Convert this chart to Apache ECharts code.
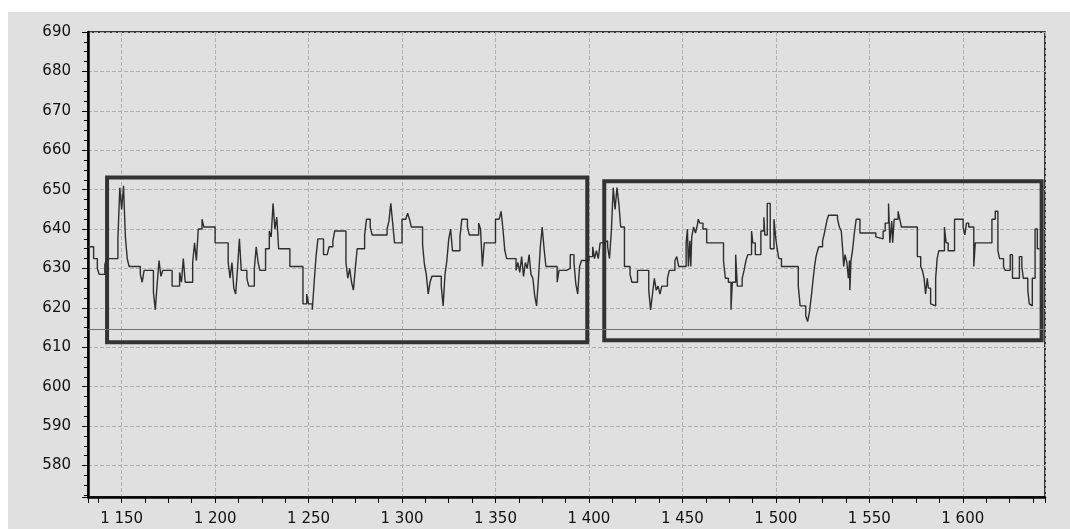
<!DOCTYPE html>
<html>
<head>
<meta charset="utf-8">
<script src="https://cdn.jsdelivr.net/npm/echarts@6/dist/echarts.min.js"></script>
<style>
  html, body { margin: 0; background: #fff; }
  #chart { position: absolute; left: 8px; top: 12px; width: 1062px; height: 517px; }
</style>
</head>
<body>
<div id="chart"></div>
<script>
// step positions (x where a new level starts) and the level values
const stepX = [
  1132, 1135, 1137, 1138, 1141, 1142, 1148, 1149, 1150, 1151, 1152, 1153, 1154, 1160, 1161, 1162,
  1167, 1168, 1169, 1170, 1171, 1172, 1177, 1181, 1182, 1183, 1184, 1188, 1189, 1190, 1191, 1193,
  1194, 1200, 1207, 1208, 1209, 1210, 1211, 1212, 1213, 1214, 1217, 1218, 1221, 1222, 1223, 1224,
  1227, 1229, 1230, 1231, 1232, 1233, 1234, 1240, 1247, 1249, 1250, 1252, 1253, 1254, 1255, 1258,
  1260, 1261, 1263, 1264, 1270, 1271, 1272, 1273, 1274, 1275, 1276, 1280, 1281, 1283, 1284, 1292,
  1293, 1294, 1295, 1296, 1300, 1302, 1303, 1304, 1305, 1311, 1312, 1313, 1314, 1315, 1316, 1321,
  1322, 1323, 1324, 1325, 1326, 1327, 1331, 1332, 1335, 1336, 1341, 1342, 1343, 1344, 1350, 1352,
  1353, 1354, 1355, 1356, 1361, 1362, 1363, 1364, 1365, 1366, 1367, 1368, 1369, 1370, 1371, 1372,
  1373, 1374, 1375, 1376, 1377, 1383, 1384,
  1388, 1390, 1392, 1393, 1394, 1395, 1396, 1400, 1402, 1403, 1404, 1405, 1406, 1408, 1410, 1411,
  1412, 1413, 1414, 1415, 1416, 1417, 1419, 1422, 1423, 1426, 1432, 1433, 1434, 1435, 1436, 1437,
  1438, 1439, 1442, 1443, 1446, 1447, 1448, 1452, 1452.7, 1453.2, 1454, 1454.5, 1455, 1456, 1457, 1458,
  1458.5, 1459.3, 1461, 1463, 1472, 1472.3, 1473, 1474.6, 1476, 1476.7, 1478.5, 1479.4, 1482, 1483, 1484, 1485,
  1487, 1487.7, 1489, 1492, 1493.6, 1494.1, 1495.4, 1497, 1499, 1500, 1500.7, 1501.6, 1503, 1512, 1513,
  1516, 1517, 1518, 1519, 1520, 1520.7, 1521.5, 1522.3, 1523, 1525, 1526, 1526.6, 1527.5, 1528.2, 1533, 1534, 1535, 1535.8,
  1536.3, 1537, 1538, 1538.8, 1539.4, 1539.6, 1540.2, 1541, 1542, 1543, 1545, 1553.5, 1554.4, 1557.4, 1558.5, 1560.3,
  1561, 1562, 1562.5, 1563.3, 1565.4, 1566.3, 1567.2, 1575.7, 1577.5, 1578.4, 1579.3, 1580.1, 1581, 1581.6, 1582.8, 1583.3,
  1585.5, 1586.3, 1587.2, 1590.2, 1591.1, 1592.2, 1595.6, 1600.2, 1601.1, 1602, 1603.2, 1605.9, 1606.7, 1615.6, 1617.4, 1618.8,
  1619.7, 1621.8, 1622.7, 1625.4, 1626.6, 1630.3, 1631.6, 1632.4, 1634.8, 1635.6, 1636.3, 1637.2, 1638.7, 1639.9, 1641
];
const stepY = [
  635.5, 632.5, 630, 628.5, 631, 632.5, 637.5, 650.5, 645, 651, 638, 632.5, 630.5, 628.5, 626.5, 629.5,
  624, 619.5, 626, 632, 628, 629.5, 625.5, 629, 626.5, 632.5, 626.5, 631.5, 636.5, 632, 640, 642.5,
  640.5, 636.5, 631.5, 627.5, 631.5, 625, 623.5, 630, 637.5, 629.5, 627.5, 625.5, 630, 635.5, 631.5, 629.5,
  635, 639.5, 638, 646.5, 640, 643, 635, 630.5, 621, 623.5, 621, 619.5, 626.5, 633, 637.5, 633.5,
  634, 635.5, 637, 639.5, 631.5, 627.5, 630, 626.5, 624.5, 630, 635, 638.5, 642.5, 640.5, 638.5, 640,
  642, 646.5, 641.5, 636.5, 642.5, 643, 644, 642.5, 640.5, 636, 631, 628.5, 623.5, 626.5, 628, 625.5,
  620.5, 628.5, 632, 637.5, 640, 634.5, 638, 642.5, 640.5, 638.5, 641.5, 640, 630.5, 636.5, 642.5, 643,
  644.5, 640, 634.5, 632.5, 629.5, 631.5, 629, 633, 628, 631.5, 630, 633.5, 628.5, 627.5, 623, 620.5,
  627.5, 635.5, 640.5, 635, 630.5, 626.5, 629.5,
  630, 633.5, 631.5, 626, 623.5, 630.5, 632, 633, 635.5, 632.5, 634.5, 632.5, 636.5, 637, 635.5, 632.5,
  639.5, 650.5, 645, 650.5, 646.5, 640.5, 630.5, 628.5, 626.5, 629.5, 624.5, 619.5, 623.5, 627.5, 624.5, 625.5,
  623.5, 625.5, 627.5, 629.5, 632, 633, 630.5, 636.5, 640, 630.5, 637, 630.5, 638, 640.5, 639, 641,
  642.5, 641.5, 640, 636.5, 632, 630.5, 627.5, 626.5, 619.5, 626.5, 633.5, 625.5, 627.5, 629.5, 632, 633.5,
  639.5, 636.5, 633.5, 639.5, 643, 638.5, 646.5, 635, 642.5, 637.5, 635, 632.5, 630.5, 625.5, 620.5,
  618, 616.5, 619, 623, 627.5, 630.5, 633, 634.5, 635.5, 637, 639, 640.5, 642.5, 643.5, 642.5, 640.5, 639.5, 634.5,
  630.5, 633.5, 631.5, 627.5, 632, 624.5, 632, 634.5, 639, 642.5, 639, 638, 637.5, 639.5, 641.5, 646.5,
  636.5, 642, 636.5, 642.5, 644.5, 642.5, 640.5, 633, 630.5, 629.5, 627.5, 623.5, 627.5, 625, 621, 620.5,
  627.5, 632.5, 634.5, 640.5, 636.5, 634.5, 642.5, 640.5, 638.5, 641.5, 640.5, 630.5, 636.5, 642.5, 644.5, 634.5,
  632.5, 630.5, 629.5, 633.5, 627.5, 633, 630.5, 627.5, 624.5, 621, 620.5, 627.5, 640, 635, 635
];

// the two highlighted windows
const boxFrom = [1142.2, 1408.2];
const boxTo = [1399.1, 1642.2];
const boxLow = [611.3, 611.8];
const boxHigh = [653.1, 652.1];
const baseline = 614.5;

const xRange = [1132, 1644];
const yRange = [572, 690];

const font = 'DejaVu Sans';
const spaced = v => String(v).replace(/\B(?=(\d{3})+(?!\d))/g, ' ');

const chart = echarts.init(document.getElementById('chart'));

const dashed = { lineStyle: { color: '#b0b0b0', width: 1, type: [4, 2] } };

chart.setOption({
  animation: false,
  backgroundColor: '#e0e0e0',
  grid: {
    left: 80, right: 25, top: 20, bottom: 32,
    show: true, borderColor: '#000', borderWidth: 1.5
  },
  xAxis: {
    type: 'value',
    min: xRange[0], max: xRange[1],
    splitNumber: 10, minInterval: 50, maxInterval: 50,
    axisLine: { lineStyle: { color: '#000', width: 2.5 } },
    axisTick: { length: 6, lineStyle: { color: '#000' } },
    minorTick: { show: true, splitNumber: 4, length: 6, lineStyle: { color: '#000' } },
    splitLine: dashed,
    axisLabel: {
      showMinLabel: false, showMaxLabel: false, formatter: spaced,
      fontFamily: font, fontSize: 15, color: '#111', margin: 15
    }
  },
  yAxis: {
    type: 'value',
    min: yRange[0], max: yRange[1],
    splitNumber: 12, minInterval: 10, maxInterval: 10,
    axisLine: { show: true, lineStyle: { color: '#000', width: 2.5 } },
    axisTick: { show: true, length: 6, lineStyle: { color: '#000' } },
    minorTick: { show: true, splitNumber: 4, length: 4, lineStyle: { color: '#000' } },
    splitLine: dashed,
    axisLabel: {
      showMinLabel: false,
      fontFamily: font, fontSize: 15, color: '#111', margin: 17
    }
  },
  series: [
    {
      type: 'line',
      step: 'end',
      showSymbol: false,
      data: stepX.map((x, i) => [x, stepY[i]]),
      lineStyle: { color: '#2e2e2e', width: 1.4 },
      markLine: {
        silent: true,
        symbol: ['none', 'none'],
        label: { show: false },
        lineStyle: { color: '#707070', width: 1.2, type: 'solid' },
        data: [{ yAxis: baseline }]
      }
    },
    {
      type: 'line',
      data: [],
      z: 5,
      markArea: {
        silent: true,
        itemStyle: { color: 'rgba(0,0,0,0)', borderColor: '#333', borderWidth: 4 },
        data: boxFrom.map((x0, i) => [
          { coord: [x0, boxHigh[i]] },
          { coord: [boxTo[i], boxLow[i]] }
        ])
      }
    }
  ]
});
</script>
</body>
</html>
